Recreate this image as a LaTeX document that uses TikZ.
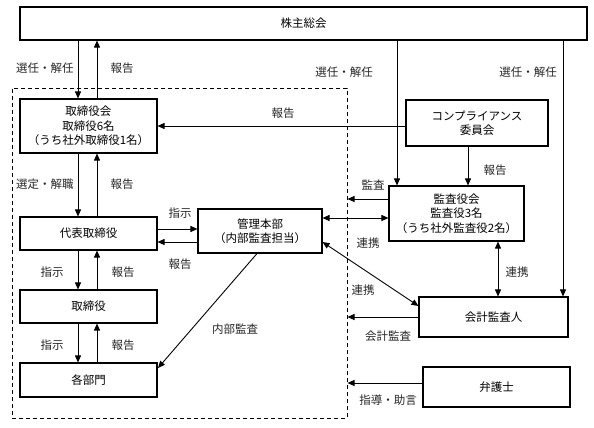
\documentclass[tikz,border=0pt]{standalone}
\usepackage{fontspec}
\setmainfont{Noto Sans CJK JP}
\usetikzlibrary{arrows.meta}
\tikzset{
  box/.style={draw, line width=1.1pt, inner sep=1pt, align=center, font=\fontsize{11.5}{14.5}\selectfont},
  grpbox/.style={draw, dashed, dash pattern=on 4pt off 3pt, line width=1pt},
  arr/.style={line width=0.9pt, -{Triangle[length=7pt,width=6pt]}},
  darr/.style={line width=0.9pt, {Triangle[length=7pt,width=6pt]}-{Triangle[length=7pt,width=6pt]}},
  lbl/.style={font=\fontsize{11.5}{13}\selectfont, inner sep=0pt, text=black!85}
}
\begin{document}
\begin{tikzpicture}[x=1pt,y=-1pt]
\useasboundingbox (0,0) rectangle (594,428);
% group
\node[grpbox, minimum width=335pt, minimum height=330pt] (grp) at (179.5,253) {};
% boxes
\node[box, minimum width=567pt, minimum height=33pt] (kabu) at (303.5,23.5) {株主総会};
\node[box, minimum width=137pt, minimum height=54pt] (tk) at (88.5,126) {取締役会\\取締役6名\\（うち社外取締役1名）};
\node[box, minimum width=137pt, minimum height=33pt] (dh) at (88.5,233.5) {代表取締役};
\node[box, minimum width=137pt, minimum height=33pt] (tr) at (88.5,306.5) {取締役};
\node[box, minimum width=137pt, minimum height=34pt] (bm) at (88.5,380) {各部門};
\node[box, minimum width=124pt, minimum height=44pt] (kr) at (260,231) {管理本部\\（内部監査担当）};
\node[box, minimum width=142pt, minimum height=46pt] (cp) at (477,123) {コンプライアンス\\委員会};
\node[box, minimum width=135pt, minimum height=55pt] (ks) at (456.5,213.5) {監査役会\\監査役3名\\（うち社外監査役2名）};
\node[box, minimum width=149pt, minimum height=40pt] (ka) at (493.5,317) {会計監査人};
\node[box, minimum width=147pt, minimum height=40pt] (bg) at (496.5,387) {弁護士};
% helper coordinates
\coordinate (x78) at (78,0);
\coordinate (x97) at (97,0);
\coordinate (x397) at (397,0);
\coordinate (x468) at (468,0);
\coordinate (x498) at (498,0);
\coordinate (x563) at (563,0);
\coordinate (x257) at (257,0);
\coordinate (y229) at (0,229);
\coordinate (y242) at (0,242);
\coordinate (y199) at (0,199);
\coordinate (y218) at (0,218);
\coordinate (y306) at (0,306);
\coordinate (y383) at (0,383);
\coordinate (bmtip) at (158,368);
% connectors left column
\draw[arr] (kabu.south -| x78) -- (tk.north -| x78);
\draw[arr] (tk.north -| x97) -- (kabu.south -| x97);
\draw[arr] (tk.south -| x78) -- (dh.north -| x78);
\draw[arr] (dh.north -| x97) -- (tk.south -| x97);
\draw[arr] (dh.south -| x78) -- (tr.north -| x78);
\draw[arr] (tr.north -| x97) -- (dh.south -| x97);
\draw[arr] (tr.south -| x78) -- (bm.north -| x78);
\draw[arr] (bm.north -| x97) -- (tr.south -| x97);
\draw[arr] (dh.east |- y229) -- (kr.west |- y229);
\draw[arr] (kr.west |- y242) -- (dh.east |- y242);
\draw[arr] (kr.south -| x257) -- (bmtip);
\draw[arr] (cp.west |- tk.east) -- (tk.east);
% right side
\draw[arr] (kabu.south -| x397) -- (ks.north -| x397);
\draw[arr] (kabu.south -| x563) -- (ka.north -| x563);
\draw[arr] (cp.south -| x468) -- (ks.north -| x468);
\draw[arr] (ks.west |- y199) -- (grp.east |- y199);
\draw[darr] (kr.east |- y218) -- (ks.west |- y218);
\draw[darr] (ks.south -| x498) -- (ka.north -| x498);
\draw[darr] (kr.east |- y242) -- (ka.west |- y306);
\draw[arr] (ka.west) -- (grp.east |- ka.west);
\draw[arr] (bg.west |- y383) -- (grp.east |- y383);
% labels
\node[lbl] (l1) at (45,68) {選任・解任};
\node[lbl] (l2) at (122,68) {報告};
\node[lbl] (l3) at (283,113) {報告};
\node[lbl] (l4) at (45,184) {選定・解職};
\node[lbl] (l5) at (122,184) {報告};
\node[lbl] (l6) at (180,213) {指示};
\node[lbl] (l7) at (180,264) {報告};
\node[lbl] (l8) at (52,272) {指示};
\node[lbl] (l9) at (123,272) {報告};
\node[lbl] (l10) at (52,345) {指示};
\node[lbl] (l11) at (123,345) {報告};
\node[lbl] (l12) at (235,329) {内部監査};
\node[lbl] (l13) at (344,72) {選任・解任};
\node[lbl] (l14) at (528,72) {選任・解任};
\node[lbl] (l15) at (495,170) {報告};
\node[lbl] (l16) at (373,185) {監査};
\node[lbl] (l17) at (368,243) {連携};
\node[lbl] (l18) at (517,272) {連携};
\node[lbl] (l19) at (363,290) {連携};
\node[lbl] (l20) at (388,336) {会計監査};
\node[lbl] (l21) at (388,400) {指導・助言};
\end{tikzpicture}
\end{document}
